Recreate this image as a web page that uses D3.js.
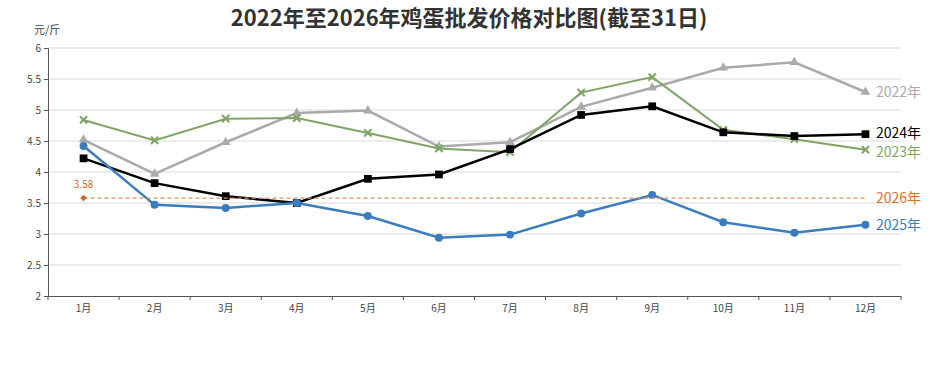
<!DOCTYPE html>
<html>
<head>
<meta charset="utf-8">
<script src="https://cdn.jsdelivr.net/npm/d3@7"></script>
<style>
  body { margin: 0; background: #fff; }
  text { font-family: "Noto Sans CJK SC", "Noto Sans", sans-serif; }
</style>
</head>
<body>
<div id="chart"></div>
<script>
const months = ["1月", "2月", "3月", "4月", "5月", "6月", "7月", "8月", "9月", "10月", "11月", "12月"];
const yTicks = [2, 2.5, 3, 3.5, 4, 4.5, 5, 5.5, 6];

const price2022 = [4.52, 3.97, 4.48, 4.95, 4.99, 4.41, 4.48, 5.05, 5.36, 5.68, 5.77, 5.29];
const price2023 = [4.84, 4.51, 4.86, 4.87, 4.63, 4.38, 4.32, 5.28, 5.53, 4.68, 4.53, 4.36];
const price2024 = [4.22, 3.82, 3.61, 3.50, 3.89, 3.96, 4.37, 4.92, 5.06, 4.64, 4.58, 4.61];
const price2025 = [4.42, 3.47, 3.42, 3.50, 3.29, 2.94, 2.99, 3.33, 3.63, 3.19, 3.02, 3.15];
const price2026 = [3.58];

const W = 938, H = 390;
const margin = { left: 48, right: 37, top: 48, bottom: 94 };

const svg = d3.select("#chart").append("svg")
  .attr("width", W)
  .attr("height", H);

const x = d3.scaleBand()
  .domain(months)
  .range([margin.left, W - margin.right]);

const y = d3.scaleLinear()
  .domain([2, 6])
  .range([H - margin.bottom, margin.top]);

const cx = function(i) { return x(months[i]) + x.bandwidth() / 2; };

// title
svg.append("text")
  .attr("x", 469)
  .attr("y", 26)
  .attr("text-anchor", "middle")
  .attr("font-size", 22)
  .attr("font-weight", "bold")
  .attr("fill", "#333")
  .text("2022年至2026年鸡蛋批发价格对比图(截至31日)");

svg.append("text")
  .attr("x", 34)
  .attr("y", 34)
  .attr("font-size", 11)
  .attr("fill", "#444")
  .text("元/斤");

// grid
svg.append("g")
  .selectAll("line")
  .data(yTicks.slice(1)).enter()
  .append("line")
    .attr("x1", margin.left)
    .attr("x2", W - margin.right)
    .attr("y1", function(d) { return y(d); })
    .attr("y2", function(d) { return y(d); })
    .style("stroke", "#d9d9d9")
    .style("stroke-width", 1);

// y axis
const yAxis = svg.append("g")
  .attr("transform", "translate(" + margin.left + ",0)")
  .call(d3.axisLeft(y).tickValues(yTicks).tickSize(4).tickFormat(d3.format("")));
yAxis.select(".domain").style("stroke", "#555");
yAxis.selectAll(".tick line").style("stroke", "#555");
yAxis.selectAll("text").attr("font-size", 10).attr("fill", "#444")
  .style("font-family", "'Noto Sans CJK SC', sans-serif");

// x axis
const xAxis = svg.append("g")
  .attr("transform", "translate(0," + (H - margin.bottom) + ")")
  .call(d3.axisBottom(x).tickSize(0).tickPadding(9));
xAxis.select(".domain").style("stroke", "#555");
xAxis.selectAll("text").attr("font-size", 10).attr("fill", "#444")
  .style("font-family", "'Noto Sans CJK SC', sans-serif");
xAxis.selectAll(".sep")
  .data(d3.range(months.length + 1)).enter()
  .append("line")
    .attr("class", "sep")
    .attr("x1", function(i) { return margin.left + i * x.step(); })
    .attr("x2", function(i) { return margin.left + i * x.step(); })
    .attr("y1", 0)
    .attr("y2", 4)
    .style("stroke", "#555");

const line = d3.line()
  .x(function(d, i) { return cx(i); })
  .y(function(d) { return y(d); });

function drawSeries(values, color, width, symbolType, size, label, labelDy) {
  svg.append("path")
    .datum(values)
    .attr("d", line)
    .attr("fill", "none")
    .style("stroke", color)
    .style("stroke-width", width);

  svg.append("g")
    .selectAll("path")
    .data(values).enter()
    .append("path")
      .attr("transform", function(d, i) { return "translate(" + cx(i) + "," + y(d) + ")"; })
      .attr("d", d3.symbol().type(symbolType).size(size))
      .attr("fill", symbolType === d3.symbolX ? "none" : color)
      .style("stroke", color)
      .style("stroke-width", symbolType === d3.symbolX ? 2 : 0);

  svg.append("text")
    .attr("x", 876)
    .attr("y", y(values[values.length - 1]) + labelDy)
    .attr("dy", "0.35em")
    .attr("font-size", 14)
    .attr("fill", color)
    .text(label);
}

drawSeries(price2022, "#aaaaaa", 2.5, d3.symbolTriangle, 40, "2022年", 0);
drawSeries(price2023, "#7fa566", 2, d3.symbolX, 36, "2023年", 2);
drawSeries(price2024, "#000000", 2.5, d3.symbolSquare, 60, "2024年", -1);
drawSeries(price2025, "#3a7cbf", 2.5, d3.symbolCircle, 50, "2025年", 0);

// 2026 reference line
svg.append("line")
  .attr("x1", cx(0))
  .attr("x2", cx(months.length - 1))
  .attr("y1", y(price2026[0]))
  .attr("y2", y(price2026[0]))
  .style("stroke", "#e0925a")
  .style("stroke-width", 1.2)
  .style("stroke-dasharray", "4,3");

svg.append("path")
  .attr("transform", "translate(" + cx(0) + "," + y(price2026[0]) + ") rotate(45)")
  .attr("d", d3.symbol().type(d3.symbolSquare).size(22))
  .attr("fill", "#d2691e");

svg.append("text")
  .attr("x", cx(0))
  .attr("y", y(price2026[0]) - 10)
  .attr("text-anchor", "middle")
  .attr("font-size", 10)
  .attr("fill", "#d2691e")
  .text(price2026[0].toFixed(2));

svg.append("text")
  .attr("x", 876)
  .attr("y", y(price2026[0]))
  .attr("dy", "0.35em")
  .attr("font-size", 14)
  .attr("fill", "#d9722f")
  .text("2026年");
</script>
</body>
</html>
